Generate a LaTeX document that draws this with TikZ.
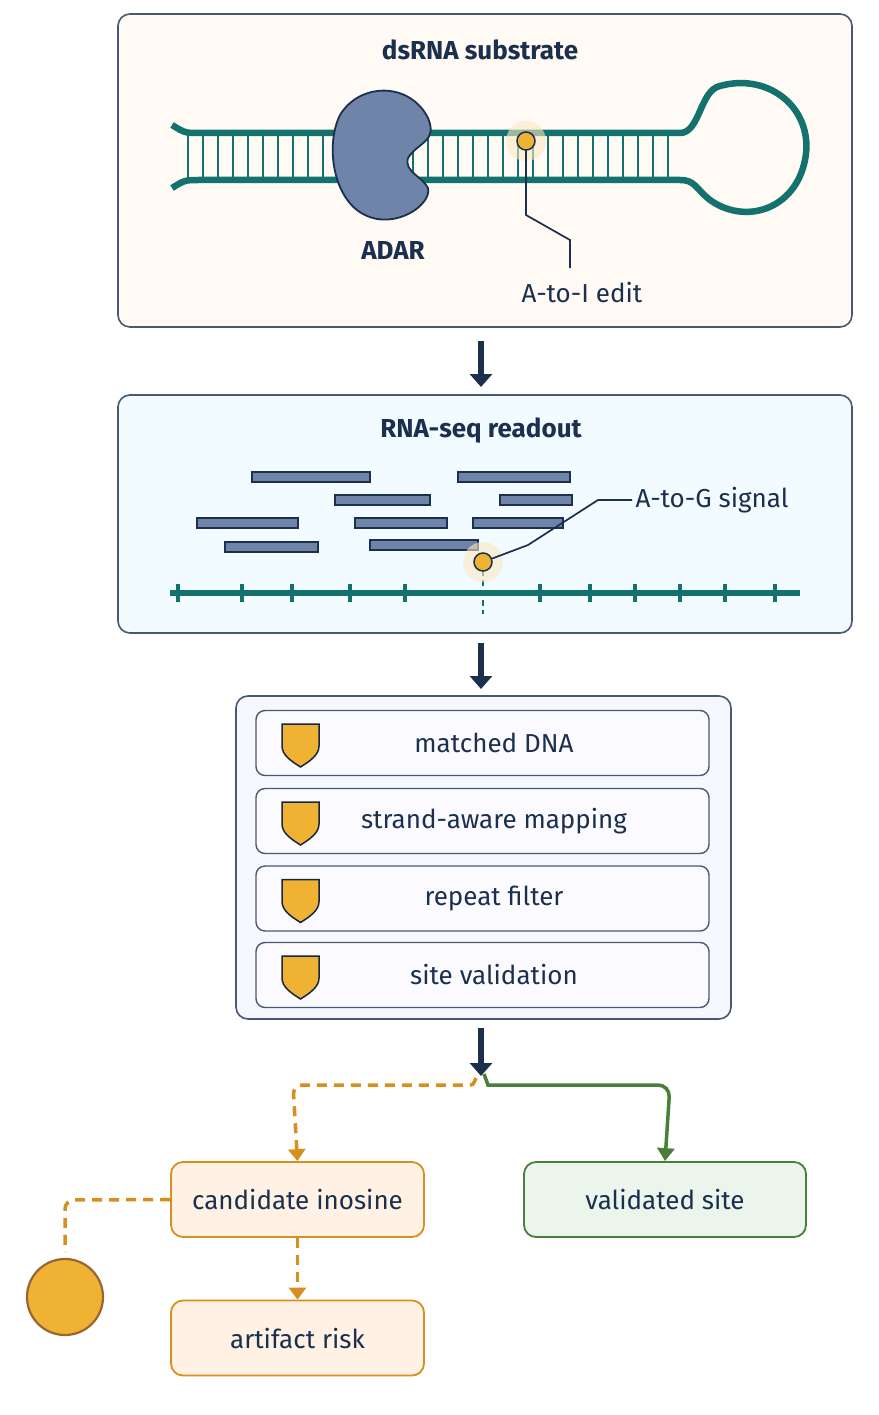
\documentclass[tikz,border=0pt]{standalone}
\usepackage{fontspec}
\setmainfont{Fira Sans}
\usetikzlibrary{arrows.meta}
\definecolor{navy}{HTML}{1B2F4E}
\definecolor{teal}{HTML}{13726E}
\definecolor{prot}{HTML}{6E84A8}
\definecolor{gold}{HTML}{F0B232}
\definecolor{orng}{HTML}{D98F1E}
\definecolor{grn}{HTML}{4A7F3A}
\begin{document}
\begin{tikzpicture}[x=1pt,y=-1pt,
 panel/.style={draw=navy!80,line width=1.6pt,rounded corners=12pt},
 row/.style={draw=navy!80,line width=1.4pt,rounded corners=9pt,fill=white!60!blue!4},
 lbl/.style={text=navy,font=\fontsize{26}{30}\selectfont},
 ttl/.style={text=navy,font=\fontsize{26}{30}\selectfont\bfseries},
 flow/.style={-{Triangle[length=13pt,width=22pt]},line width=6.5pt,draw=navy},
 obox/.style={draw=orng,line width=1.8pt,fill=orange!10,rounded corners=12pt,minimum width=253pt,minimum height=75pt,text=navy,font=\fontsize{26}{30}\selectfont},
 gbox/.style={draw=grn,line width=1.8pt,fill=green!50!black!8,rounded corners=12pt,minimum width=282pt,minimum height=75pt,text=navy,font=\fontsize{26}{30}\selectfont},
 read/.style={draw=navy,line width=1.2pt,fill=prot},
 odash/.style={draw=orng,line width=3.5pt,dash pattern=on 10pt off 7pt,rounded corners=9pt},
 shield/.style={draw=navy!80!black,line width=1.5pt,fill=gold}]
\useasboundingbox (0,0) rectangle (878,1415);
\fill[white] (0,0) rectangle (878,1415);
% panel 1
\node[panel,fill=yellow!5!orange!4,minimum width=734pt,minimum height=313pt] (p1) at (485,170.5) {};
\node[ttl] (t1) at (480,50) {dsRNA substrate};
\foreach \x in {188,203,...,680}{\draw[teal,line width=2.6pt] (\x,133) -- (\x,180);}
\draw[teal,line width=6.5pt] (172,125) .. controls (185,133) .. (200,133) -- (680,133) .. controls (700,133) and (700,90) .. (720,86) .. controls (770,72) and (815,110) .. (805,160) .. controls (795,210) and (745,225) .. (710,200) .. controls (695,188) and (695,180) .. (680,180) -- (200,180) .. controls (185,180) .. (172,188);
\draw[navy,line width=1.8pt,fill=prot] (408,158) .. controls (418,142) and (438,142) .. (428,118) .. controls (410,82) and (360,82) .. (340,115) .. controls (325,145) and (333,200) .. (365,215) .. controls (395,230) and (432,205) .. (428,188) .. controls (422,176) and (404,172) .. (408,158) -- cycle;
\node[lbl,font=\fontsize{26}{30}\selectfont\bfseries] (adar) at (393,250) {ADAR};
\fill[gold!30,opacity=0.6] (526,141) circle (20);
\draw[navy,line width=1.7pt] (526,150) -- (526,215) -- (570,240) -- (570,268);
\node[circle,draw=navy,line width=1.5pt,fill=gold,minimum size=18pt,inner sep=0] (edit) at (526,141) {};
\node[lbl] (atoi) at (582,293) {A-to-I edit};
\draw[flow] (481,341) -- (481,387);
% panel 2
\node[panel,fill=blue!30!cyan!5,minimum width=734pt,minimum height=238pt] (p2) at (485,514) {};
\node[ttl] (t2) at (481,431) {RNA-seq readout};
\foreach \a/\b/\c in {252/472/370,458/472/570,335/495/430,500/495/572,197/518/298,355/518/447,473/518/563,225/542/318,370/540/478}{\draw[read] (\a,\b) rectangle (\c,\b+10);}
\draw[teal,line width=6pt] (170,593) -- (800,593);
\foreach \x in {178,242,292,350,405,540,590,635,680,725,775}{\draw[teal,line width=3.5pt] (\x,584) -- (\x,602);}
\draw[teal,line width=2.6pt,dash pattern=on 6pt off 4pt] (483,570) -- (483,614);
\fill[gold!30,opacity=0.6] (483,562) circle (20);
\node[circle,draw=navy,line width=1.5pt,fill=gold,minimum size=18pt,inner sep=0] (sig) at (483,562) {};
\node[lbl] (atog) at (712,500) {A-to-G signal};
\draw[navy,line width=1.7pt] (sig) -- (528,545) -- (598,500) -- (atog.west);
\draw[flow] (481,643) -- (481,689);
% panel 3
\node[panel,fill=blue!3,minimum width=495pt,minimum height=323pt] (p3) at (483.5,857.5) {};
\foreach \y/\t [count=\i] in {743/matched DNA,821/strand-aware mapping,898.5/repeat filter,975/site validation}{
 \node[row,minimum width=453pt,minimum height=65pt] (r\i) at (482.5,\y) {};
 \node[lbl] (rt\i) at (494,\y) {\t};
 \draw[shield] (282,\y-19) -- (319,\y-19) -- (319,\y+3) .. controls (319,\y+12) and (310,\y+18) .. (300.5,\y+24) .. controls (291,\y+18) and (282,\y+12) .. (282,\y+3) -- cycle;
}
\draw[flow] (481,1028) -- (481,1076);
\node[obox] (cand) at (297.5,1199.5) {candidate inosine};
\node[obox] (art) at (297.5,1338) {artifact risk};
\node[gbox] (val) at (665,1199.5) {validated site};
\draw[odash,-{Triangle[length=12pt,width=17pt]}] (476,1078) .. controls (473,1085) .. (460,1085) -- (293,1085) -- (cand.north);
\draw[grn,line width=3.5pt,rounded corners=12pt,-{Triangle[length=13pt,width=17pt]}] (484,1074) .. controls (488,1085) .. (500,1085) -- (670,1085) -- (val.north);
\draw[odash,-{Triangle[length=12pt,width=17pt]}] (cand.south) -- (art.north);
\node[circle,draw=brown!80!black,line width=2.2pt,fill=gold,minimum size=76pt,inner sep=0] (dot) at (65,1297) {};
\draw[odash] (cand.west) -- (65,1200) -- (65,1252);
\end{tikzpicture}
\end{document}
